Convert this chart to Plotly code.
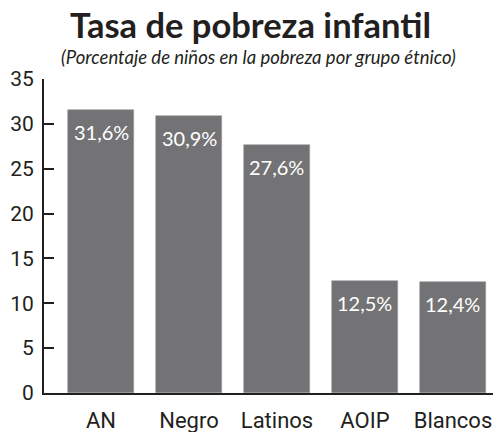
import plotly.graph_objects as go

categories = ["AN", "Negro", "Latinos", "AOIP", "Blancos"]
values = [31.6, 30.9, 27.6, 12.5, 12.4]
labels = ["31,6%", "30,9%", "27,6%", "12,5%", "12,4%"]
y_ticks = [0, 5, 10, 15, 20, 25, 30, 35]

title = "Tasa de pobreza infantil"
subtitle = "(Porcentaje de niños en la pobreza por grupo étnico)"

xpos = list(range(len(categories)))
bar_color = "#737375"
ink = "#231f20"

fig = go.Figure()
fig.add_trace(go.Bar(
    x=xpos, y=values, width=0.75,
    marker=dict(color=bar_color, line=dict(color="#9a9a9c", width=0.6)),
    hoverinfo="skip",
))

for xi, v, lab in zip(xpos, values, labels):
    fig.add_annotation(x=xi, y=v, text=lab, showarrow=False, yanchor="middle",
                       yshift=-22, font=dict(family="Lato", size=20, color="white"))

fig.add_annotation(xref="paper", yref="paper", x=0.459, y=1.172, text="<b>" + title + "</b>",
                   showarrow=False, xanchor="center", yanchor="middle",
                   font=dict(family="Lato", size=34.5, color=ink))
fig.add_annotation(xref="paper", yref="paper", x=0.477, y=1.07, text="<i>" + subtitle + "</i>",
                   showarrow=False, xanchor="center", yanchor="middle",
                   font=dict(family="Lato", size=18.5, color=ink))

fig.update_layout(
    width=493, height=432,
    margin=dict(l=44, r=0, t=79, b=39),
    paper_bgcolor="white", plot_bgcolor="white",
    showlegend=False, bargap=0, hovermode=False,
    xaxis=dict(range=[-0.648, 4.455], tickvals=xpos, ticktext=categories,
               showgrid=False, zeroline=False, showline=True, linecolor=ink, linewidth=2,
               ticks="", tickfont=dict(family="Roboto", size=22, color=ink), ticklabelstandoff=7),
    yaxis=dict(range=[0, 35], tickvals=y_ticks, showgrid=False, zeroline=False,
               showline=True, linecolor=ink, linewidth=2, ticks="inside", ticklen=10,
               tickwidth=2, tickcolor=ink,
               tickfont=dict(family="Roboto", size=21, color=ink), ticklabelstandoff=4),
)

fig.write_html("out.html", config={"displayModeBar": False},
               post_script="document.body.style.margin='0px';document.body.style.overflow='hidden';")
